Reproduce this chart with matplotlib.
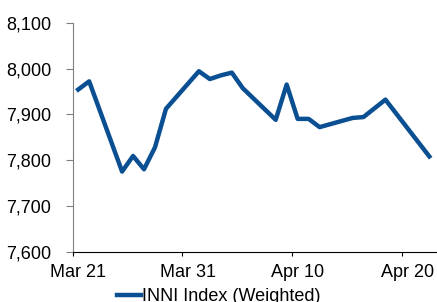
import matplotlib.pyplot as plt
import matplotlib.transforms as mtransforms
from datetime import datetime, timedelta

plt.rcParams['font.family'] = ['Liberation Sans', 'DejaVu Sans']
plt.rcParams['font.size'] = 13

# 数据 (2013, trading days)
dates = ['2013-03-21', '2013-03-22', '2013-03-25', '2013-03-26', '2013-03-27',
         '2013-03-28', '2013-03-29', '2013-04-01', '2013-04-02', '2013-04-03',
         '2013-04-04', '2013-04-05', '2013-04-08', '2013-04-09', '2013-04-10',
         '2013-04-11', '2013-04-12', '2013-04-15', '2013-04-16', '2013-04-17',
         '2013-04-18', '2013-04-19', '2013-04-22']
values = [7954, 7972, 7775, 7809, 7780,
          7828, 7912, 7994, 7977, 7985,
          7991, 7957, 7888, 7965, 7890,
          7890, 7872, 7892, 7894, 7913,
          7932, 7901, 7808]
tick_dates = ['2013-03-21', '2013-03-31', '2013-04-10', '2013-04-20']
tick_labels = ['Mar 21', 'Mar 31', 'Apr 10', 'Apr 20']
yticks = [7600, 7700, 7800, 7900, 8000, 8100]
label = 'INNI Index (Weighted)'

x = [datetime.strptime(d, '%Y-%m-%d') + timedelta(hours=12) for d in dates]
xt = [datetime.strptime(d, '%Y-%m-%d') for d in tick_dates]

fig = plt.figure(figsize=(4.37, 3.02), dpi=100)
ax = fig.add_axes([72.7/437, 1-251.7/302, 1-72.7/437, (251.7-22.7)/302])

ax.plot(x, values, color='#0B4F93', linewidth=3.2, label=label)

ax.set_xlim(xt[0], xt[0] + timedelta(days=33.2))
ax.set_ylim(7600, 8100)
ax.set_xticks(xt)
ax.set_xticklabels(tick_labels)
ax.set_yticks(yticks)
ax.set_yticklabels(['{:,}'.format(v) for v in yticks])

ax.spines['top'].set_visible(False)
ax.spines['right'].set_visible(False)
ax.spines['left'].set_color('#808080')
ax.spines['bottom'].set_color('black')
ax.tick_params(axis='y', colors='#808080', length=5, labelcolor='black', pad=10.5)
ax.tick_params(axis='x', colors='black', length=3, pad=5.8)

# x labels sit a little right of their ticks in the original
shift = mtransforms.ScaledTranslation(0.055, 0, fig.dpi_scale_trans)
for t in ax.get_xticklabels():
    t.set_transform(t.get_transform() + shift)

fig.legend(loc='center', bbox_to_anchor=(219/437, 1-296.5/302), frameon=False,
           handlelength=1.33, handletextpad=0.05, borderpad=0)

fig.savefig('out.png', dpi=100)
